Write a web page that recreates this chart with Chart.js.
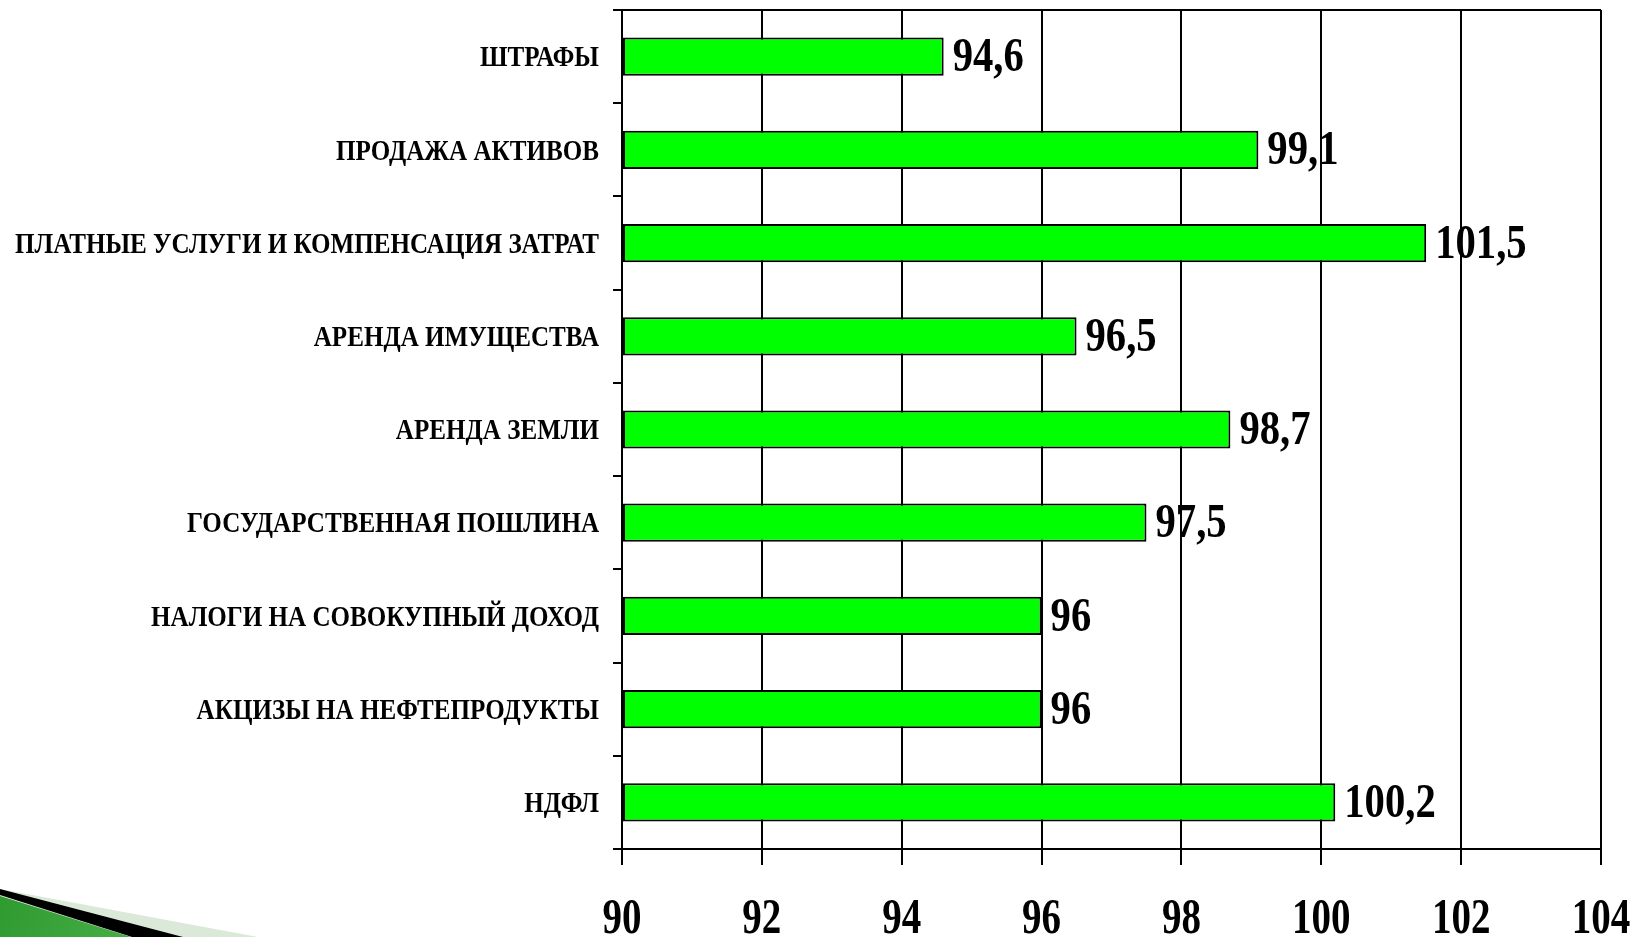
<!DOCTYPE html>
<html>
<head>
<meta charset="utf-8">
<script src="https://cdn.jsdelivr.net/npm/chart.js@4"></script>
<style>
  html, body { margin: 0; background: #fff; }
  #wrap { width: 1636px; height: 937px; }
</style>
</head>
<body>
<div id="wrap"><canvas id="incomeChart"></canvas></div>
<script>
// data
const categories = [
  'ШТРАФЫ',
  'ПРОДАЖА АКТИВОВ',
  'ПЛАТНЫЕ УСЛУГИ И КОМПЕНСАЦИЯ ЗАТРАТ',
  'АРЕНДА ИМУЩЕСТВА',
  'АРЕНДА ЗЕМЛИ',
  'ГОСУДАРСТВЕННАЯ ПОШЛИНА',
  'НАЛОГИ НА СОВОКУПНЫЙ ДОХОД',
  'АКЦИЗЫ НА НЕФТЕПРОДУКТЫ',
  'НДФЛ'
];
const values = [94.6, 99.1, 101.5, 96.5, 98.7, 97.5, 96, 96, 100.2];
const xMin = 90;
const xMax = 104;
const xStep = 2;

const SERIF = '"Liberation Serif", "Times New Roman", serif';

function fmt(v) {
  return String(v).replace('.', ',');
}

// squeezed text, the slide font is a narrow Times
function squeezed(ctx, text, x, y, k, align) {
  ctx.save();
  ctx.translate(x, y);
  ctx.scale(k, 1);
  ctx.textAlign = align;
  ctx.fillText(text, 0, 0);
  ctx.restore();
}

const slideText = {
  id: 'slideText',
  beforeDraw(chart) {
    // value labels go under the grid lines like in the original
    const ctx = chart.ctx;
    ctx.save();
    ctx.fillStyle = '#000';
    ctx.textBaseline = 'middle';
    ctx.font = 'bold 49px ' + SERIF;
    chart.getDatasetMeta(0).data.forEach((bar, i) => {
      squeezed(ctx, fmt(values[i]), bar.x + 9, bar.y + 2, 0.83, 'left');
    });
    ctx.restore();
  },
  afterDraw(chart) {
    const ctx = chart.ctx;
    const xs = chart.scales.x;
    const ys = chart.scales.y;
    ctx.save();
    ctx.fillStyle = '#000';
    ctx.textBaseline = 'middle';

    ctx.font = 'bold 30px ' + SERIF;
    categories.forEach((c, i) => {
      squeezed(ctx, c, ys.left + ys.width - 23, ys.getPixelForValue(i) + 2, 0.836, 'right');
    });

    ctx.font = 'bold 50px ' + SERIF;
    xs.ticks.forEach(t => {
      squeezed(ctx, String(t.value), xs.getPixelForValue(t.value), 920, 0.78, 'center');
    });

    // corner ornament of the slide template
    ctx.fillStyle = '#dbe9d8';
    ctx.beginPath();
    ctx.moveTo(0, 889); ctx.lineTo(258, 937); ctx.lineTo(0, 937);
    ctx.closePath(); ctx.fill();
    ctx.fillStyle = '#000';
    ctx.beginPath();
    ctx.moveTo(0, 889); ctx.lineTo(183, 937); ctx.lineTo(132, 937); ctx.lineTo(0, 895);
    ctx.closePath(); ctx.fill();
    const g = ctx.createLinearGradient(0, 896, 120, 937);
    g.addColorStop(0, '#2f9a2f');
    g.addColorStop(1, '#44ad44');
    ctx.fillStyle = g;
    ctx.beginPath();
    ctx.moveTo(0, 896); ctx.lineTo(131, 937); ctx.lineTo(0, 937);
    ctx.closePath(); ctx.fill();
    ctx.restore();
  }
};

new Chart(document.getElementById('incomeChart'), {
  type: 'bar',
  data: {
    labels: categories,
    datasets: [{
      data: values,
      base: xMin,
      backgroundColor: '#00ff00',
      borderColor: '#000',
      borderWidth: 2,
      borderSkipped: false,
      barPercentage: 0.41,
      categoryPercentage: 1
    }]
  },
  options: {
    indexAxis: 'y',
    responsive: true,
    maintainAspectRatio: false,
    animation: false,
    layout: { padding: { top: 10, right: 35, left: 0, bottom: 0 } },
    plugins: {
      legend: { display: false },
      tooltip: { enabled: false }
    },
    scales: {
      x: {
        min: xMin,
        max: xMax,
        ticks: { stepSize: xStep, display: false },
        grid: { color: '#000', lineWidth: 2, tickLength: 16, tickColor: '#000' },
        border: { color: '#000', width: 2 },
        afterFit: s => { s.height = 88; }
      },
      y: {
        ticks: { display: false },
        grid: {
          offset: true,
          color: c => c.index === 0 ? '#000' : 'rgba(0,0,0,0)',
          lineWidth: 2,
          tickLength: 9,
          tickColor: '#000'
        },
        border: { color: '#000', width: 2 },
        afterFit: s => { s.width = 622; }
      }
    }
  },
  plugins: [slideText]
});
</script>
</body>
</html>
